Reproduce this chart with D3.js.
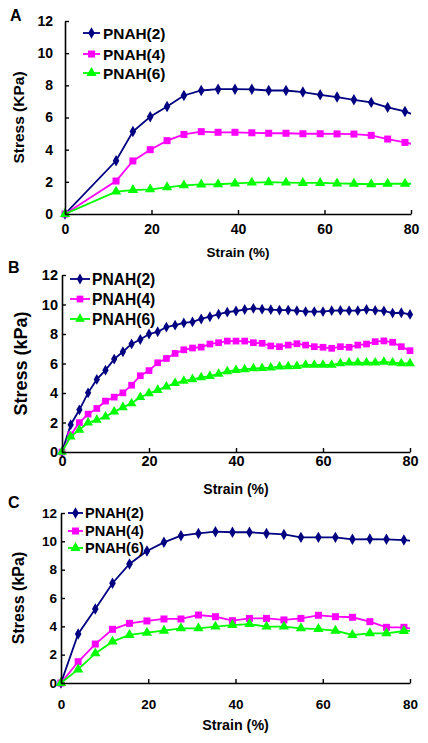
<!DOCTYPE html>
<html><head><meta charset="utf-8">
<script src="https://cdn.jsdelivr.net/npm/d3@7"></script>
<style>body{margin:0;background:#fff}svg{display:block}text{font-family:"Liberation Sans",Arial,sans-serif;font-weight:bold}</style>
</head><body><svg id="c" width="428" height="743"></svg>
<script>
// ---- data ----
const seriesNames = ["PNAH(2)", "PNAH(4)", "PNAH(6)"];
const xTicks = [0, 20, 40, 60, 80];
const yTicks = [0, 2, 4, 6, 8, 10, 12];

const strainA = [0, 11.8, 15.7, 19.7, 23.6, 27.5, 31.5, 35.4, 39.3, 43.2, 47.1, 51.1, 55.0, 59.0, 62.9, 66.8, 70.8, 74.6, 78.6, 82.5];
const a_pnah2 = [0, 3.31, 5.13, 6.05, 6.69, 7.37, 7.68, 7.76, 7.76, 7.75, 7.68, 7.68, 7.58, 7.41, 7.27, 7.10, 6.94, 6.63, 6.38, 5.96];
const a_pnah4 = [0, 2.05, 3.30, 4.00, 4.56, 4.95, 5.12, 5.08, 5.08, 5.05, 5.02, 5.02, 4.99, 4.99, 4.98, 4.97, 4.89, 4.66, 4.45, 4.22];
const a_pnah6 = [0, 1.39, 1.49, 1.53, 1.66, 1.78, 1.84, 1.85, 1.90, 1.95, 1.98, 1.95, 1.93, 1.93, 1.90, 1.88, 1.85, 1.88, 1.88, 1.88];

const strainB = [0, 2, 4, 6, 8, 10, 12, 14, 16, 18, 20, 22, 24, 26, 28, 30, 32, 34, 36, 38, 40, 42, 44, 46, 48, 50, 52, 54, 56, 58, 60, 62, 64, 66, 68, 70, 72, 74, 76, 78, 80];
const b_pnah2 = [0, 1.85, 2.86, 4.01, 4.92, 5.55, 6.30, 6.80, 7.33, 7.63, 8.00, 8.15, 8.47, 8.60, 8.75, 8.82, 9.02, 9.17, 9.34, 9.48, 9.56, 9.66, 9.74, 9.68, 9.65, 9.62, 9.62, 9.58, 9.52, 9.52, 9.52, 9.58, 9.60, 9.58, 9.58, 9.66, 9.60, 9.56, 9.42, 9.44, 9.33];
const b_pnah4 = [0, 1.16, 1.99, 2.57, 2.95, 3.45, 3.72, 4.01, 4.53, 5.17, 5.52, 6.05, 6.34, 6.68, 6.93, 7.05, 7.11, 7.32, 7.41, 7.52, 7.52, 7.52, 7.41, 7.37, 7.19, 7.14, 7.25, 7.34, 7.25, 7.14, 7.10, 7.03, 7.14, 7.10, 7.25, 7.32, 7.48, 7.53, 7.44, 7.14, 6.87];
const b_pnah6 = [0, 1.04, 1.50, 1.99, 2.17, 2.40, 2.73, 3.03, 3.30, 3.71, 3.98, 4.20, 4.43, 4.66, 4.82, 4.93, 5.06, 5.15, 5.29, 5.47, 5.55, 5.60, 5.67, 5.68, 5.72, 5.78, 5.80, 5.82, 5.90, 5.90, 5.90, 5.90, 6.00, 6.05, 6.05, 6.05, 6.05, 6.10, 6.05, 6.00, 6.00];

const strainC = [0, 3.93, 7.86, 11.8, 15.7, 19.7, 23.6, 27.5, 31.5, 35.4, 39.3, 43.2, 47.1, 51.1, 55.0, 59.0, 62.9, 66.8, 70.8, 74.6, 78.6, 82.5];
const c_pnah2 = [0, 3.46, 5.22, 7.04, 8.40, 9.32, 9.93, 10.40, 10.56, 10.68, 10.64, 10.64, 10.56, 10.49, 10.28, 10.28, 10.28, 10.14, 10.16, 10.14, 10.09, 9.97];
const c_pnah4 = [0, 1.50, 2.75, 3.79, 4.21, 4.38, 4.52, 4.52, 4.80, 4.68, 4.40, 4.56, 4.56, 4.45, 4.56, 4.78, 4.68, 4.64, 4.33, 3.93, 3.93, 3.74];
const c_pnah6 = [0, 0.96, 2.09, 2.92, 3.39, 3.55, 3.69, 3.86, 3.86, 3.98, 4.09, 4.16, 3.98, 3.98, 3.86, 3.81, 3.69, 3.39, 3.51, 3.51, 3.67, 3.72];

// ---- layout / style ----
const colors = ["#000080", "#ff00ff", "#00ff00"];
const symbols = [d3.symbolDiamond, d3.symbolSquare, d3.symbolTriangle];

const panels = [
  {letter:"A", x:strainA, ys:[a_pnah2,a_pnah4,a_pnah6], yLabel:"Stress (KPa)",
   left:65, right:411, top:21, bottom:214, tickFont:14, tickPadY:12, tickPadX:10,
   xLabY:252, xLabFont:13.5, yLabX:18, yLabFont:15.5, letterXY:[10,21], letterFont:16,
   leg:{x0:83,x1:100,tx:103,ys:[33,54,73],font:15.4}, msize:[38,49,46]},
  {letter:"B", x:strainB, ys:[b_pnah2,b_pnah4,b_pnah6], yLabel:"Stress (kPa)",
   left:62, right:410, top:275, bottom:452, tickFont:14.5, tickPadY:4, tickPadX:4,
   xLabY:489, xLabFont:14, yLabX:21, yLabFont:18, letterXY:[8,273], letterFont:16,
   leg:{x0:70,x1:90,tx:92,ys:[279,299,319],font:15.6}, msize:[34,45,42]},
  {letter:"C", x:strainC, ys:[c_pnah2,c_pnah4,c_pnah6], yLabel:"Stress (kPa)",
   left:61, right:410, top:513, bottom:683, tickFont:13.5, tickPadY:4, tickPadX:16,
   xLabY:725, xLabFont:14.3, yLabX:18, yLabFont:16, letterXY:[8,508], letterFont:16,
   leg:{x0:68,x1:83,tx:85,ys:[513,531,548],font:14.5}, msize:[38,49,46]}
];

const svg = d3.select("#c");

panels.forEach((p, pi) => {
  const x = d3.scaleLinear().domain([0, 80]).range([p.left, p.right]);
  const y = d3.scaleLinear().domain([0, 12]).range([p.bottom, p.top]);
  const g = svg.append("g");

  const clipId = "clip" + pi;
  svg.append("clipPath").attr("id", clipId).append("rect")
    .attr("x", p.left).attr("y", p.top - 10).attr("width", p.right - p.left).attr("height", p.bottom - p.top + 10);

  // series
  p.ys.forEach((vals, si) => {
    const pts = p.x.map((xv, i) => [xv, vals[i]]);
    g.append("path").datum(pts)
      .attr("fill", "none").attr("stroke", colors[si]).attr("stroke-width", 1.8)
      .attr("clip-path", `url(#${clipId})`)
      .attr("d", d3.line().x(d => x(d[0])).y(d => y(d[1])));
    g.selectAll(null).data(pts.filter(d => d[0] <= 80)).enter().append("path")
      .attr("transform", d => `translate(${x(d[0])},${y(d[1])})`)
      .attr("d", d3.symbol().type(symbols[si]).size(p.msize[si]))
      .attr("fill", colors[si]);
  });

  // axes
  const ax = g.append("g").attr("transform", `translate(0,${p.bottom})`)
    .call(d3.axisBottom(x).tickValues(xTicks).tickSizeInner(-4).tickSizeOuter(0).tickPadding(p.tickPadX));
  const ay = g.append("g").attr("transform", `translate(${p.left},0)`)
    .call(d3.axisLeft(y).tickValues(yTicks).tickSizeInner(-4).tickSizeOuter(0).tickPadding(p.tickPadY));
  [ax, ay].forEach(a => {
    a.select(".domain").attr("stroke", "#000").attr("stroke-width", 1.6);
    a.selectAll(".tick line").attr("stroke", "#000").attr("stroke-width", 1.4);
    a.selectAll(".tick text").attr("fill", "#000").style("font-size", p.tickFont + "px")
      .style("font-family", '"Liberation Sans",Arial,sans-serif').style("font-weight", "bold");
  });

  // axis titles
  g.append("text").attr("x", (p.left + p.right) / 2).attr("y", p.xLabY)
    .attr("text-anchor", "middle").attr("dominant-baseline", "central")
    .style("font-size", p.xLabFont + "px").text("Strain (%)");
  g.append("text").attr("transform", `translate(${p.yLabX},${(p.top + p.bottom) / 2}) rotate(-90)`)
    .attr("text-anchor", "middle").attr("dominant-baseline", "central")
    .style("font-size", p.yLabFont + "px").text(p.yLabel);

  // panel letter
  g.append("text").attr("x", p.letterXY[0]).attr("y", p.letterXY[1])
    .style("font-size", p.letterFont + "px").text(p.letter);

  // legend
  seriesNames.forEach((name, si) => {
    const ly = p.leg.ys[si];
    g.append("line").attr("x1", p.leg.x0).attr("x2", p.leg.x1).attr("y1", ly).attr("y2", ly)
      .attr("stroke", colors[si]).attr("stroke-width", 1.8);
    g.append("path").attr("transform", `translate(${(p.leg.x0 + p.leg.x1) / 2},${ly})`)
      .attr("d", d3.symbol().type(symbols[si]).size(p.msize[si])).attr("fill", colors[si]);
    g.append("text").attr("x", p.leg.tx).attr("y", ly).attr("dominant-baseline", "central")
      .style("font-size", p.leg.font + "px").text(name);
  });
});
</script></body></html>
